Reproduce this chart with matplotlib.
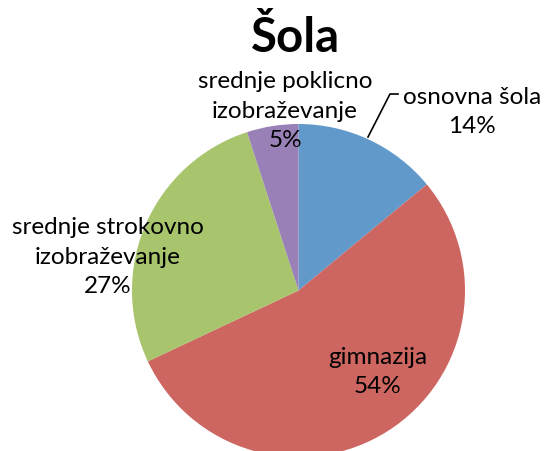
import matplotlib.pyplot as plt

# data
labels = ["osnovna šola", "gimnazija", "srednje strokovno\nizobraževanje", "srednje poklicno\nizobraževanje"]
shares = [14, 54, 27, 5]
colors = ["#6299CB", "#CD6660", "#A8C46C", "#9980B7"]

# label anchor positions (pixels, y from top)
label_pos = [(472, 112), (378, 372), (108, 257), (285, 111)]

W, H = 544, 452
fig = plt.figure(figsize=(W / 100, H / 100), dpi=100)
ax = fig.add_axes([0, 0, 1, 1])
ax.set_xlim(0, W)
ax.set_ylim(0, H)
ax.set_aspect("equal")
ax.axis("off")

cx, cy, r = 298.5, H - 291.5, 166.5
ax.pie(shares, colors=colors, startangle=90, counterclock=False,
       center=(cx, cy), radius=r, frame=True,
       wedgeprops=dict(linewidth=0))
ax.set_xlim(0, W)
ax.set_ylim(0, H)
ax.axis("off")

font = "Lato"
for lab, val, (x, y) in zip(labels, shares, label_pos):
    ax.text(x, H - y, f"{lab}\n{val}%", ha="center", va="center",
            fontsize=17.5, family=font, linespacing=1.5, color="black")

# leader line for the small slice label
ax.plot([368, 390, 398], [H - 138, H - 95, H - 95], color="black", lw=1.2)

ax.text(295, H - 38, "Šola", ha="center", va="center", fontsize=34,
        fontweight="bold", family=font)

fig.savefig("out.png", dpi=100)
